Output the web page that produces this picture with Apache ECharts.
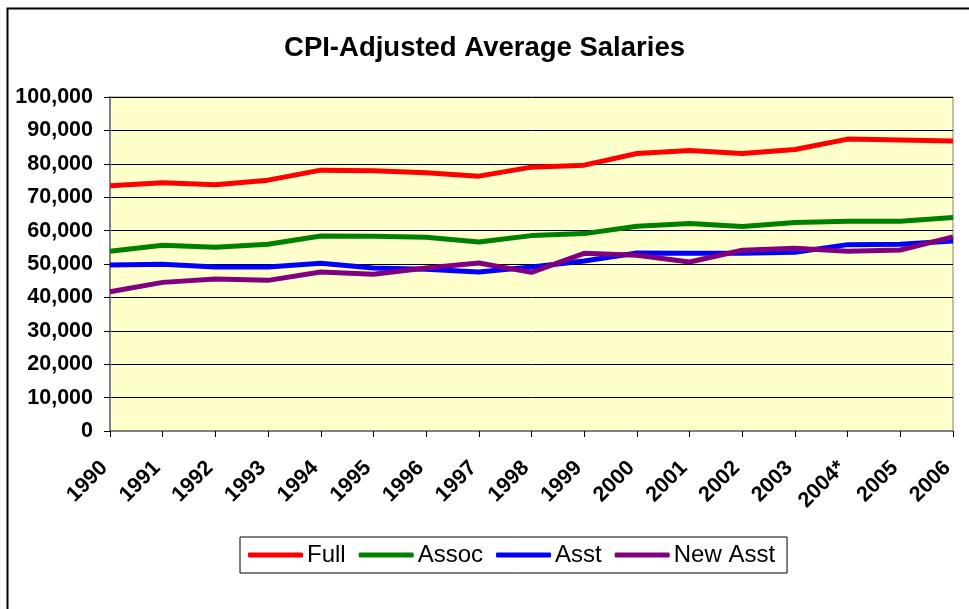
<!DOCTYPE html>
<html>
<head>
<meta charset="utf-8">
<script src="https://cdn.jsdelivr.net/npm/echarts@6/dist/echarts.min.js"></script>
<style>
  html, body { margin: 0; padding: 0; background: #fff; }
  #chart { width: 969px; height: 609px; }
</style>
</head>
<body>
<div id="chart"></div>
<script>
// 年份
const years = ["1990", "1991", "1992", "1993", "1994", "1995", "1996", "1997", "1998",
  "1999", "2000", "2001", "2002", "2003", "2004*", "2005", "2006"];
// 各职称的平均工资 (CPI 调整后)
const full = [73400, 74300, 73700, 75100, 78100, 77900, 77300, 76300, 79000,
  79600, 83100, 84000, 83100, 84300, 87400, 87100, 86800];
const assoc = [53800, 55600, 55000, 55900, 58400, 58300, 58000, 56600, 58500,
  59100, 61300, 62100, 61200, 62400, 62800, 62800, 63900];
const asst = [49700, 49900, 49100, 49100, 50200, 48800, 48400, 47600, 49100,
  50900, 53300, 53200, 53200, 53500, 55800, 55900, 56900];
const newAsst = [41700, 44500, 45500, 45100, 47600, 46900, 48800, 50300, 47500,
  53200, 52600, 50600, 54100, 54700, 53800, 54200, 58100];

const seriesNames = ["Full", "Assoc", "Asst", "New Asst"];
const seriesColors = ["#FF0000", "#008000", "#0000FF", "#800080"];
const seriesData = [full, assoc, asst, newAsst];

const chartInstance = echarts.init(document.getElementById("chart"));

const option = {
  animation: false,
  textStyle: { fontFamily: "Liberation Sans, Arial, sans-serif" },
  // 外框（只有左边和上边在画面内）
  graphic: [
    {
      type: "rect",
      shape: { x: 7.5, y: 8.5, width: 1000, height: 700 },
      style: { fill: "none", stroke: "#000", lineWidth: 2 },
      silent: true,
    },
  ],
  title: {
    text: "CPI-Adjusted Average Salaries",
    left: "center",
    top: 29,
    textStyle: { fontSize: 27.5, fontWeight: "bold", color: "#000" },
  },
  grid: {
    left: 110,
    right: 16,
    top: 97,
    bottom: 178,
    show: true,
    backgroundColor: "#FFFFCC",
    borderColor: "#808080",
    borderWidth: 1,
  },
  legend: {
    data: seriesNames,
    left: 240,
    top: 537,
    itemWidth: 55,
    itemHeight: 5,
    itemGap: 13,
    padding: [6, 12, 6, 8],
    borderColor: "#000",
    borderWidth: 1,
    borderRadius: 0,
    icon: "roundRect",
    textStyle: { fontSize: 24, color: "#000", padding: [0, 0, 0, -1] },
  },
  xAxis: {
    type: "category",
    data: years,
    boundaryGap: false,
    axisLine: { lineStyle: { color: "#808080", width: 2 } },
    axisTick: { show: true, length: 6, lineStyle: { color: "#000" } },
    axisLabel: {
      rotate: 45,
      interval: 0,
      margin: 28,
      padding: [0, 8, 0, 0],
      fontSize: 21.5,
      fontWeight: "bold",
      color: "#000",
    },
    splitLine: { show: false },
  },
  yAxis: {
    type: "value",
    min: 0,
    max: 100000,
    interval: 10000,
    axisLine: { show: true, lineStyle: { color: "#808080", width: 2 } },
    axisTick: { show: true, length: 6, lineStyle: { color: "#000" } },
    axisLabel: {
      margin: 17,
      fontSize: 21.5,
      fontWeight: "bold",
      color: "#000",
      formatter: (v) => v.toLocaleString("en-US"),
    },
    splitLine: { lineStyle: { color: "#000", width: 1 } },
  },
  series: seriesNames.map((name, i) => ({
    name: name,
    type: "line",
    data: seriesData[i],
    symbol: "none",
    color: seriesColors[i],
    lineStyle: { width: 5, color: seriesColors[i] },
  })),
};

chartInstance.setOption(option);
</script>
</body>
</html>
